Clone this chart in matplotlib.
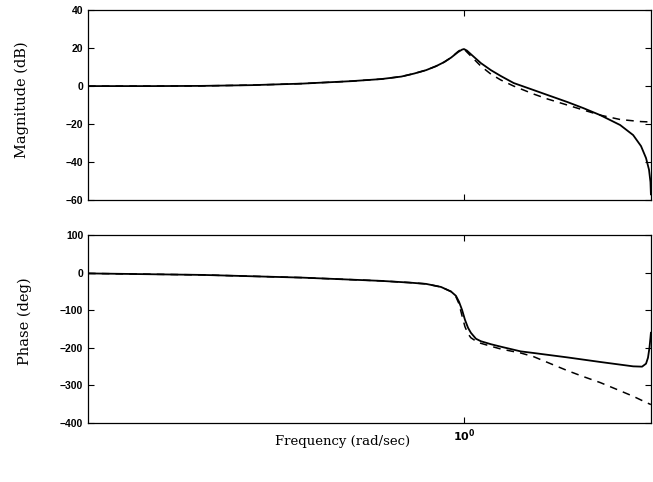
import matplotlib
matplotlib.use('Agg')
from matplotlib import pyplot as plt

# frequencies (rad/sec) and values
w_mag = [0.1, 0.149, 0.2, 0.273, 0.371, 0.502, 0.603, 0.681, 0.737, 0.793, 0.843, 0.885,
         0.924, 0.964, 0.988, 1.0, 1.018, 1.043, 1.109, 1.179, 1.253, 1.356, 1.532,
         1.668, 1.884, 2.077, 2.304, 2.602, 2.818, 2.957, 3.049, 3.105, 3.133, 3.1416]
mag_solid = [0.0, 0.0, 0.1, 0.5, 1.3, 2.6, 3.7, 5.0, 6.6, 8.4, 10.5, 12.6,
             15.0, 17.9, 19.2, 19.5, 18.7, 16.8, 12.1, 8.4, 5.3, 1.6, -2.1,
             -4.7, -8.4, -11.6, -15.3, -20.5, -25.8, -31.6, -37.9, -44.0, -50.5, -57.0]

w_mag_d = [0.1, 0.149, 0.2, 0.273, 0.371, 0.502, 0.603, 0.681, 0.737, 0.793, 0.843, 0.885,
           0.924, 0.964, 0.988, 1.0, 1.018, 1.043, 1.109, 1.179, 1.253, 1.356, 1.532,
           1.668, 1.884, 2.077, 2.304, 2.602, 2.957, 3.1416]
mag_dash = [0.0, 0.0, 0.1, 0.5, 1.3, 2.6, 3.7, 5.0, 6.6, 8.4, 10.5, 12.6,
            15.0, 18.2, 19.7, 19.5, 17.9, 15.8, 10.5, 6.3, 3.2, 0.0, -4.2,
            -6.8, -10.0, -12.6, -15.3, -17.6, -18.7, -18.9]

w_ph = [0.1, 0.2015, 0.371, 0.603, 0.715, 0.793, 0.869, 0.924, 0.952, 0.970, 0.988, 1.006,
        1.025, 1.043, 1.076, 1.109, 1.179, 1.253, 1.415, 1.532, 1.884, 2.304, 2.818,
        2.976, 3.049, 3.086, 3.114, 3.133, 3.1416]
ph_solid = [-2.1, -6.1, -13.3, -22.0, -26.5, -30.0, -38.2, -50.4, -61.8, -77.6, -98.9, -125.5,
            -146.7, -160.0, -175.9, -182.5, -190.4, -197.0, -209.5, -213.8, -225.5, -237.7, -249.3,
            -250.1, -242.2, -226.3, -199.7, -173.2, -160.0]

w_ph_d = [0.1, 0.2015, 0.371, 0.603, 0.715, 0.793, 0.869, 0.924, 0.952, 0.970, 0.988, 1.006,
          1.025, 1.043, 1.089, 1.179, 1.253, 1.415, 1.532, 1.699, 1.884, 2.077, 2.304,
          2.556, 2.818, 3.067, 3.1416]
ph_dash = [-2.1, -6.1, -13.3, -22.0, -26.5, -30.0, -38.2, -50.4, -64.5, -83.1, -114.9, -144.0,
           -162.6, -173.2, -185.7, -195.8, -203.2, -213.8, -223.6, -242.2, -260.7, -276.6, -292.5,
           -311.1, -328.9, -346.4, -350.9]

mag_ticks = [-60, -40, -20, 0, 20, 40]
ph_ticks = [-400, -300, -200, -100, 0, 100]

fig = plt.figure(figsize=(6.53, 4.82), dpi=100)
ax1 = fig.add_axes([0.1348, 0.585, 0.862, 0.394])
ax2 = fig.add_axes([0.1348, 0.1224, 0.862, 0.39])

ax1.semilogx(w_mag, mag_solid, 'k-', lw=1.3)
ax1.semilogx(w_mag_d, mag_dash, 'k--', lw=1.1, dashes=(5, 4))
ax2.semilogx(w_ph, ph_solid, 'k-', lw=1.3)
ax2.semilogx(w_ph_d, ph_dash, 'k--', lw=1.1, dashes=(5, 4))

ax1.set_ylim(-60, 40)
ax1.set_yticks(mag_ticks)
ax2.set_ylim(-400, 100)
ax2.set_yticks(ph_ticks)

for ax in (ax1, ax2):
    ax.set_xlim(0.1, 3.1416)
    ax.set_xticks([1])
    ax.xaxis.set_minor_locator(matplotlib.ticker.NullLocator())
    ax.tick_params(direction='in', length=4, width=0.8, top=True, right=True,
                   labelsize=7.5)
    for s in ax.spines.values():
        s.set_linewidth(0.9)
    for lab in ax.get_yticklabels():
        lab.set_fontfamily('Liberation Sans')
        lab.set_fontweight('bold')

ax1.set_xticklabels([])
ax2.set_xticklabels(['$\\mathbf{10^0}$'], fontsize=8)

fig.text(0.034, 0.793, 'Magnitude (dB)', rotation=90, ha='center', va='center',
         family='DejaVu Serif', fontsize=10.5)
fig.text(0.038, 0.334, 'Phase (deg)', rotation=90, ha='center', va='center',
         family='DejaVu Serif', fontsize=10.5)
fig.text(0.525, 0.083, 'Frequency (rad/sec)', ha='center', va='center',
         family='DejaVu Serif', fontsize=9.5)

fig.savefig('out.png', dpi=100)
